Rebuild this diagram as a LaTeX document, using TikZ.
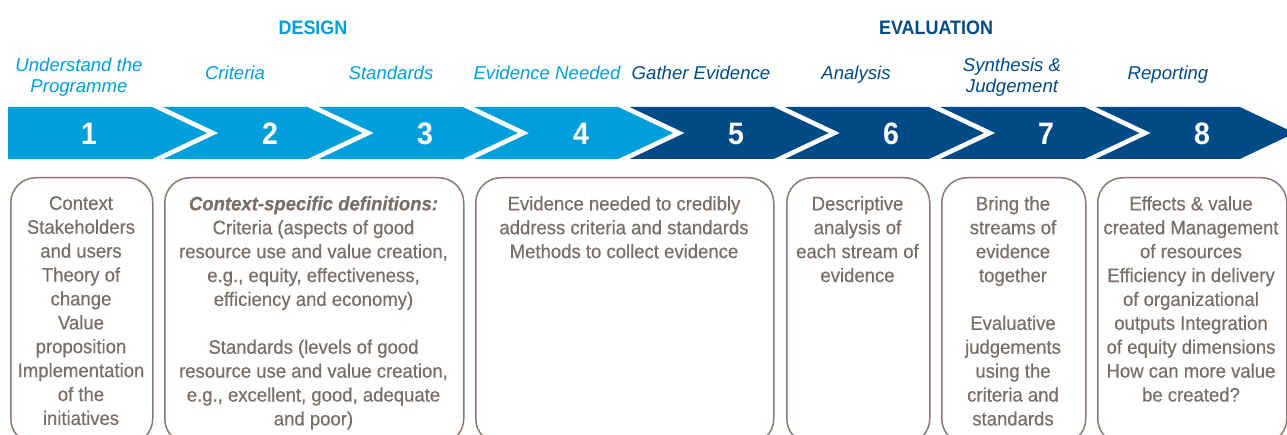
\documentclass[tikz,border=0pt]{standalone}
\usepackage{fontspec}
\setmainfont{Liberation Sans}
\newfontfamily\cardfont[FakeStretch=0.95,FakeBold=0.5]{Liberation Sans}
\newfontfamily\headfont[FakeStretch=0.92]{Liberation Sans}
\definecolor{lblue}{HTML}{009FDB}
\definecolor{dblue}{HTML}{004B87}
\definecolor{boxtxt}{HTML}{7A6E67}
\definecolor{boxline}{HTML}{877A72}
\begin{document}
\begin{tikzpicture}[x=1pt,y=-1pt,
  seglight/.style={fill=lblue},
  segdark/.style={fill=dblue},
  num/.style={text=white,font=\headfont\fontsize{31}{31}\selectfont\bfseries,inner sep=0pt},
  lab/.style={font=\fontsize{18.6}{21.5}\selectfont\itshape,align=center,inner sep=0pt},
  head/.style={font=\headfont\fontsize{19.5}{22}\selectfont\bfseries,inner sep=0pt,anchor=base},
  card/.style={draw=boxline,line width=1.5pt,rounded corners=25pt,anchor=north west,minimum height=266pt,inner sep=0pt},
  cardtext/.style={text=boxtxt,font=\cardfont\fontsize{19.5}{23.9}\selectfont,align=center,inner sep=0pt,anchor=north}]
\useasboundingbox (0,0) rectangle (1287,435);
\clip (0,0) rectangle (1287,435);
% headings
\node[head,text=lblue] (design) at (313,35) {DESIGN};
\node[head,text=dblue] (evaluation) at (936,35) {EVALUATION};
% step labels
\node[lab,text=lblue,anchor=center] (l1) at (79,77) {Understand the\\Programme};
\node[lab,text=lblue,anchor=base] (l2) at (235,80) {Criteria};
\node[lab,text=lblue,anchor=base] (l3) at (391,80) {Standards};
\node[lab,text=lblue,anchor=base] (l4) at (547,80) {Evidence Needed};
\node[lab,text=dblue,anchor=base] (l5) at (701,80) {Gather Evidence};
\node[lab,text=dblue,anchor=base] (l6) at (856,80) {Analysis};
\node[lab,text=dblue,anchor=center] (l7) at (1012,77) {Synthesis \&\\Judgement};
\node[lab,text=dblue,anchor=base] (l8) at (1168,80) {Reporting};
% chevron band
\def\dd{55}
\fill[seglight] (8,107) -- (152,107) -- (152+\dd,133) -- (152,159) -- (8,159) -- cycle;
\foreach \i in {2,...,8}{
  \pgfmathsetmacro{\R}{152+155.4*(\i-1)}
  \pgfmathsetmacro{\L}{\R-144}
  \ifnum\i<5
    \fill[seglight] (\L,107) -- (\R,107) -- (\R+\dd,133) -- (\R,159) -- (\L,159) -- (\L+\dd,133) -- cycle;
  \else
    \fill[segdark] (\L,107) -- (\R,107) -- (\R+\dd,133) -- (\R,159) -- (\L,159) -- (\L+\dd,133) -- cycle;
  \fi
}
% numbers
\node[num] (n1) at (89,134) {1};
\node[num] (n2) at (270,134) {2};
\node[num] (n3) at (425,134) {3};
\node[num] (n4) at (581,134) {4};
\node[num] (n5) at (736,134) {5};
\node[num] (n6) at (891,134) {6};
\node[num] (n7) at (1046,134) {7};
\node[num] (n8) at (1202,134) {8};
% boxes
\node[card,minimum width=142pt] (b1) at (10,177) {};
\node[card,minimum width=299pt] (b2) at (164,177) {};
\node[card,minimum width=298pt] (b3) at (475,177) {};
\node[card,minimum width=143pt] (b4) at (786,177) {};
\node[card,minimum width=144pt] (b5) at (941,177) {};
\node[card,minimum width=189pt] (b6) at (1097,177) {};
% box texts
\node[cardtext] (t1) at (81,196) {Context\\Stakeholders\\and users\\Theory of\\change\\Value\\proposition\\Implementation\\of the\\initiatives};
\node[cardtext] (t2) at (313.5,196) {\textbf{\textit{Context-specific definitions:}}\\Criteria (aspects of good\\resource use and value creation,\\e.g., equity, effectiveness,\\efficiency and economy)\\[23.9pt]Standards (levels of good\\resource use and value creation,\\e.g., excellent, good, adequate\\and poor)};
\node[cardtext] (t3) at (624,196) {Evidence needed to credibly\\address criteria and standards\\Methods to collect evidence};
\node[cardtext] (t4) at (857.5,196) {Descriptive\\analysis of\\each stream of\\evidence};
\node[cardtext] (t5) at (1013,196) {Bring the\\streams of\\evidence\\together\\[23.9pt]Evaluative\\judgements\\using the\\criteria and\\standards};
\node[cardtext] (t6) at (1191,196) {Effects \& value\\created Management\\of resources\\Efficiency in delivery\\of organizational\\outputs Integration\\of equity dimensions\\How can more value\\be created?};
\end{tikzpicture}
\end{document}
